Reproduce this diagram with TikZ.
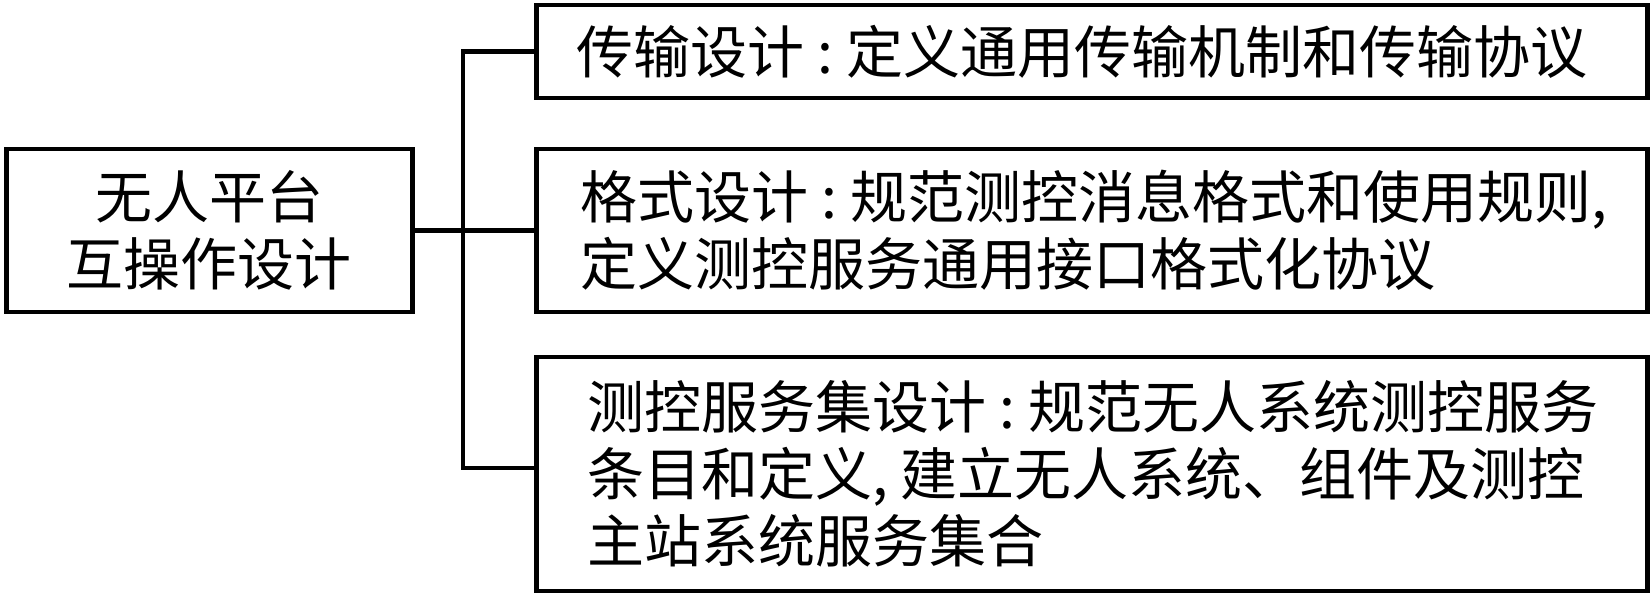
\documentclass[tikz,border=0pt]{standalone}
\usepackage{fontspec}
\setmainfont{Noto Sans CJK SC}
\newcommand{\cln}{\makebox[0.74em]{:}}
\newcommand{\cma}{\makebox[0.5em][l]{,}}
\tikzset{
  box/.style={draw, line width=4.5pt, rectangle, anchor=north west, inner ysep=0pt,
    font=\fontsize{57pt}{67pt}\selectfont},
  link/.style={line width=4.5pt},
}
\begin{document}
\begin{tikzpicture}[x=1pt,y=-1pt]
\useasboundingbox (0,0) rectangle (1650,593);
\node[box, minimum width=406pt, minimum height=163pt, align=center, inner xsep=0pt]
  (L) at (4,147) {无人平台\\互操作设计};
\node[box, minimum width=1111pt, minimum height=93pt, inner xsep=40pt, text width=1031pt, align=left]
  (T1) at (534,3) {传输设计\cln 定义通用传输机制和传输协议};
\node[box, minimum width=1111pt, minimum height=163pt, inner xsep=44pt, text width=1023pt, align=left]
  (T2) at (534,147) {格式设计\cln 规范测控消息格式和使用规则\cma\\定义测控服务通用接口格式化协议};
\node[box, minimum width=1111pt, minimum height=234pt, inner xsep=51pt, text width=1009pt, align=left]
  (T3) at (534,355) {测控服务集设计\cln 规范无人系统测控服务\\条目和定义\cma 建立无人系统、组件及测控\\主站系统服务集合};
\coordinate (spine) at (463,0);
\draw[link] (L.east) -- (T2.west);
\draw[link] (T1.west) -- (T1.west -| spine) -- ([yshift=6pt]T3.west -| spine) -- ([yshift=6pt]T3.west);
\end{tikzpicture}
\end{document}
